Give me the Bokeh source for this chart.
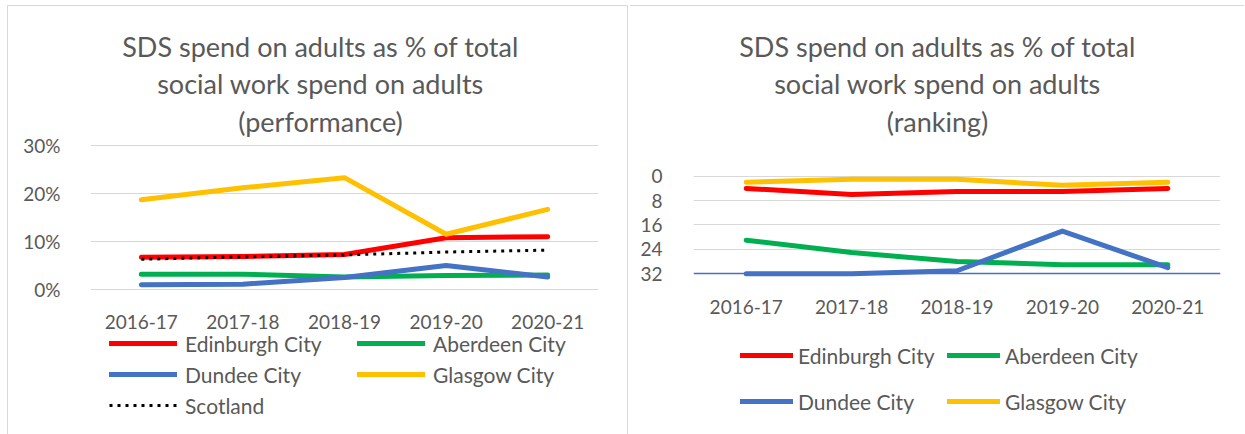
from bokeh.plotting import figure
from bokeh.models import (Range1d, FactorRange, Label, Legend, LegendItem,
                          PrintfTickFormatter, FixedTicker)
from bokeh.layouts import row
from bokeh.embed import file_html
from bokeh.resources import INLINE

# ---------------- data ----------------
years = ["2016-17", "2017-18", "2018-19", "2019-20", "2020-21"]

perf_edinburgh = [6.7, 6.9, 7.3, 10.8, 11.0]
perf_aberdeen = [3.2, 3.2, 2.6, 2.9, 3.0]
perf_dundee = [1.0, 1.1, 2.5, 5.0, 2.6]
perf_glasgow = [18.7, 21.2, 23.3, 11.5, 16.7]
perf_scotland = [6.3, 6.8, 7.2, 7.8, 8.2]

rank_edinburgh = [4, 6, 5, 5, 4]
rank_aberdeen = [21, 25, 28, 29, 29]
rank_dundee = [32, 32, 31, 18, 30]
rank_glasgow = [2, 1, 1, 3, 2]

perf_ticks = [0, 10, 20, 30]
rank_ticks = [0, 8, 16, 24, 32]

title_lines_left = ["SDS spend on adults as % of total",
                    "social work spend on adults", "(performance)"]
title_lines_right = ["SDS spend on adults as % of total",
                     "social work spend on adults", "(ranking)"]

RED, GREEN, BLUE, GOLD, BLACK = "#FF0000", "#00B050", "#4472C4", "#FFC000", "#000000"
TXT = "#595959"
FONT = "Lato"
GRID = "#D9D9D9"
H = 434


def style_axes(p, standoff_x, standoff_y):
    for ax in (p.xaxis[0], p.yaxis[0]):
        ax.major_tick_line_color = None
        ax.minor_tick_line_color = None
        ax.major_label_text_font = FONT
        ax.major_label_text_font_size = "19px"
        ax.major_label_text_color = TXT
    p.xaxis[0].major_label_standoff = standoff_x
    p.yaxis[0].major_label_standoff = standoff_y
    p.yaxis[0].axis_line_color = None
    p.xgrid.grid_line_color = None
    p.ygrid.grid_line_color = GRID
    p.ygrid.grid_line_width = 1
    p.outline_line_color = None
    p.border_fill_color = None
    p.background_fill_color = None


def add_title(p, lines, cx, ys):
    for t, y in zip(lines, ys):
        p.add_layout(Label(x=cx, y=y, x_units="screen", y_units="screen",
                           text=t, text_align="center", text_baseline="middle",
                           text_font=FONT, text_font_size="27px", text_color=TXT))


def make_legend(items, vx, vy, glyph_w, standoff, spacing):
    return Legend(items=items, location=(vx, vy), orientation="vertical",
                  glyph_width=glyph_w, glyph_height=26, label_height=26,
                  label_standoff=standoff, spacing=spacing, padding=0, margin=0,
                  border_line_color=None, background_fill_alpha=0,
                  label_text_font=FONT, label_text_font_size="21px",
                  label_text_color=TXT)


kw = dict(line_width=5, line_cap="round", line_join="round")

# ---------------- left: performance ----------------
p1 = figure(width=628, height=H, x_range=FactorRange(*years, range_padding=0),
            y_range=Range1d(-30.21, 60.21), output_backend="svg",
            toolbar_location=None, min_border_left=90, min_border_right=30,
            min_border_top=0, min_border_bottom=0,
            styles={"box-shadow": "inset 0 5px 0 #FFFFFF, inset 7px 0 0 #FFFFFF, "
                                  "inset 0 6px 0 #D9D9D9, inset 8px 0 0 #D9D9D9, "
                                  "inset -1px 0 0 #D9D9D9"})
style_axes(p1, 20, 24)
p1.xaxis[0].axis_line_color = None
p1.xaxis[0].fixed_location = 0
p1.yaxis[0].ticker = FixedTicker(ticks=perf_ticks)
p1.yaxis[0].formatter = PrintfTickFormatter(format="%d%%")

r_ed = p1.line(years, perf_edinburgh, line_color=RED, **kw)
r_ab = p1.line(years, perf_aberdeen, line_color=GREEN, **kw)
r_du = p1.line(years, perf_dundee, line_color=BLUE, **kw)
r_gl = p1.line(years, perf_glasgow, line_color=GOLD, **kw)
r_sc = p1.line(years, perf_scotland, line_color=BLACK, line_width=3,
               line_dash="3 5", line_cap="butt")

add_title(p1, title_lines_left, 230, [388, 351, 313])

p1.add_layout(make_legend([LegendItem(label="Edinburgh City", renderers=[r_ed]),
                           LegendItem(label="Dundee City", renderers=[r_du]),
                           LegendItem(label="Scotland", renderers=[r_sc])],
                          19, 16, 68, 8, 5))
p1.add_layout(make_legend([LegendItem(label="Aberdeen City", renderers=[r_ab]),
                           LegendItem(label="Glasgow City", renderers=[r_gl])],
                          267, 47, 68, 8, 5))

# ---------------- right: ranking ----------------
p2 = figure(width=614, height=H, x_range=FactorRange(*years, range_padding=0),
            y_range=Range1d(84.69, -57.6), output_backend="svg",
            toolbar_location=None, min_border_left=63, min_border_right=24,
            min_border_top=0, min_border_bottom=0,
            styles={"box-shadow": "inset 0 5px 0 #FFFFFF, inset 0 6px 0 #D9D9D9"})
style_axes(p2, 20, 25)
p2.xaxis[0].axis_line_color = BLUE
p2.xaxis[0].axis_line_width = 1.5
p2.xaxis[0].fixed_location = 32
p2.yaxis[0].ticker = FixedTicker(ticks=rank_ticks)

s_ed = p2.line(years, rank_edinburgh, line_color=RED, **kw)
s_ab = p2.line(years, rank_aberdeen, line_color=GREEN, **kw)
s_du = p2.line(years, rank_dundee, line_color=BLUE, **kw)
s_gl = p2.line(years, rank_glasgow, line_color=GOLD, **kw)

add_title(p2, title_lines_right, 244, [388, 351, 313])

p2.add_layout(make_legend([LegendItem(label="Edinburgh City", renderers=[s_ed]),
                           LegendItem(label="Dundee City", renderers=[s_du])],
                          47, 20, 53, 5, 20))
p2.add_layout(make_legend([LegendItem(label="Aberdeen City", renderers=[s_ab]),
                           LegendItem(label="Glasgow City", renderers=[s_gl])],
                          254, 20, 53, 5, 20))

layout = row(p1, p2, spacing=2)
open("out.html", "w").write(file_html(layout, INLINE))
